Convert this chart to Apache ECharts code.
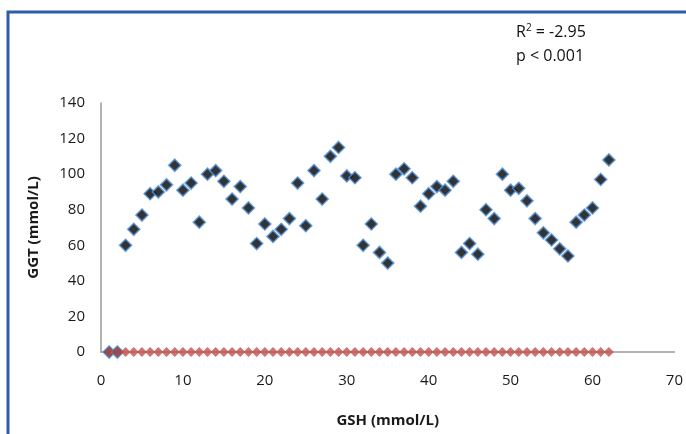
<!DOCTYPE html>
<html>
<head>
<meta charset="utf-8">
<script src="https://cdn.jsdelivr.net/npm/echarts@6/dist/echarts.min.js"></script>
<style>
html,body{margin:0;padding:0;background:#fff;}
#chart{width:686px;height:434px;}
</style>
</head>
<body>
<div id="chart"></div>
<script>
// GSH (x) values for each subject
var gshValues = [1,2,3,4,5,6,7,8,9,10,11,12,13,14,15,16,17,18,19,20,21,22,23,24,25,26,27,28,29,30,31,32,33,34,35,36,37,38,39,40,41,42,43,44,45,46,47,48,49,50,51,52,53,54,55,56,57,58,59,60,61,62];
// GGT (y) values, black diamonds
var ggtValues = [0,0,60,69,77,89,90,94,105,91,95,73,100,102,96,86,93,81,61,72,65,69,75,95,71,102,86,110,115,99,98,60,72,56,50,100,103,98,82,89,93,91,96,56,61,55,80,75,100,91,92,85,75,67,63,58,54,73,77,81,97,108];
// second series (red diamonds), all at zero
var zeroValues = [0,0,0,0,0,0,0,0,0,0,0,0,0,0,0,0,0,0,0,0,0,0,0,0,0,0,0,0,0,0,0,0,0,0,0,0,0,0,0,0,0,0,0,0,0,0,0,0,0,0,0,0,0,0,0,0,0,0,0,0,0,0];
var xTicks = {min: 0, max: 70, interval: 10};
var yTicks = {min: 0, max: 140, interval: 20};
var xTitle = 'GSH (mmol/L)';
var yTitle = 'GGT (mmol/L)';
var note1 = 'R{sup|2} = -2.95';
var note2 = 'p < 0.001';

var blackData = gshValues.map(function(x, i){ return [x, ggtValues[i]]; });
var redData = gshValues.map(function(x, i){ return [x, zeroValues[i]]; });

var FONT = '"Open Sans", Lato, sans-serif';
var chart = echarts.init(document.getElementById('chart'), null, {renderer: 'canvas'});
chart.setOption({
  backgroundColor: '#ffffff',
  animation: false,
  grid: {left: 101, right: 11, top: 103, bottom: 82},
  xAxis: {
    type: 'value', min: xTicks.min, max: xTicks.max, interval: xTicks.interval,
    name: xTitle, nameLocation: 'middle', nameGap: 61,
    nameTextStyle: {fontFamily: FONT, fontSize: 15, fontWeight: 'bold', color: '#1a1a1a'},
    axisLine: {show: true, lineStyle: {color: '#9a9a9a', width: 1.5}},
    axisTick: {show: false},
    axisLabel: {fontFamily: FONT, fontSize: 15, color: '#1a1a1a', margin: 21},
    splitLine: {show: false}
  },
  yAxis: {
    type: 'value', min: yTicks.min, max: yTicks.max, interval: yTicks.interval,
    name: yTitle, nameLocation: 'middle', nameGap: 60, nameRotate: 90,
    nameTextStyle: {fontFamily: FONT, fontSize: 15, fontWeight: 'bold', color: '#1a1a1a'},
    axisLine: {show: true, lineStyle: {color: '#9a9a9a', width: 1.5}},
    axisTick: {show: false},
    axisLabel: {fontFamily: FONT, fontSize: 15, color: '#1a1a1a', margin: 16},
    splitLine: {show: false}
  },
  series: [
    {
      type: 'scatter', data: blackData, symbol: 'diamond', symbolSize: 12,
      itemStyle: {color: '#000000', borderColor: '#4f8fd6', borderWidth: 1.6}
    },
    {
      type: 'scatter', data: redData, symbol: 'diamond', symbolSize: 10,
      itemStyle: {color: '#c0504d'}
    }
  ],
  graphic: [
    {type: 'rect', shape: {x: 8, y: 12, width: 700, height: 460}, style: {fill: 'none', stroke: '#2f5ea8', lineWidth: 3}, silent: true},
    {type: 'text', left: 516, top: 23, style: {text: note1, fontFamily: FONT, fontSize: 16, fill: '#111',
      rich: {sup: {fontSize: 10, verticalAlign: 'top', padding: [0,0,8,0], fontFamily: FONT, fill: '#111'}}}},
    {type: 'text', left: 516, top: 48, style: {text: note2, fontFamily: FONT, fontSize: 16, fill: '#111'}}
  ]
});
</script>
</body>
</html>
